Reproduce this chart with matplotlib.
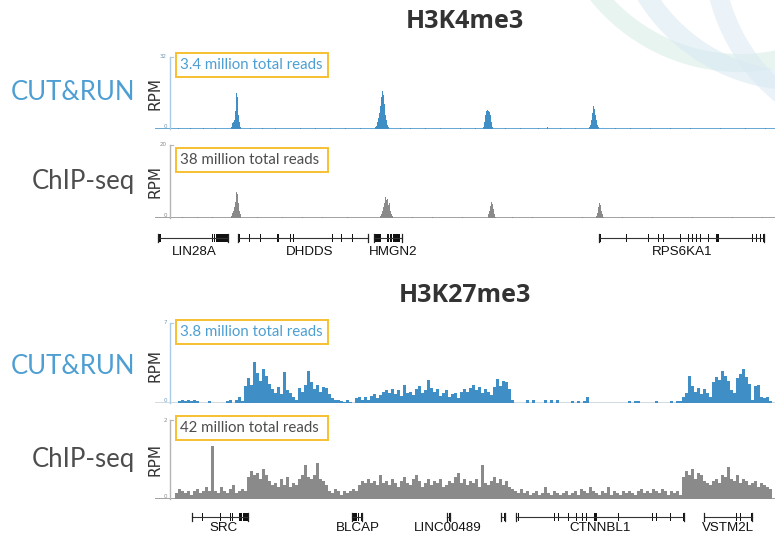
import numpy as np
import matplotlib
matplotlib.use('Agg')
import matplotlib.pyplot as plt
from matplotlib.patches import Circle, Rectangle

W, H = 775, 535

# ---- data (genomic positions are in browser units, 0 = left edge of tracks) ----
# H3K4me3 CUT&RUN (RPM), sparse bins
k4_cr_pos = (list(range(59, 69)) + list(range(203, 217)) + list(range(311, 321)) + list(range(417, 427))
             + [6, 18, 31, 43, 78, 90, 103, 128, 143, 158, 173, 188, 228, 238, 253, 268, 288, 303,
                333, 348, 366, 375, 388, 403, 443, 458, 478, 498, 518, 548, 573, 593])
k4_cr_val = ([1, 2.5, 3, 4, 8, 16, 14, 6, 3, 1]
             + [1, 1.5, 3, 5, 7, 10, 14, 17, 15, 11, 6, 4, 2, 1]
             + [1, 3, 6, 8, 8.5, 8, 7.5, 6, 3, 1]
             + [1, 2, 4, 7, 10, 9, 6, 4, 2, 1]
             + [0.4, 0.4, 0.3, 0.4, 0.4, 0.3, 0.4, 0.4, 0.3, 0.4, 0.4, 0.3, 0.4, 0.3, 0.4, 0.4, 0.3, 0.4,
                0.4, 0.3, 0.4, 1.0, 0.4, 0.3, 0.4, 0.4, 0.3, 0.4, 0.4, 0.3, 0.4, 0.3])

# H3K4me3 ChIP-seq (RPM)
k4_chip_pos = (list(range(59, 69)) + list(range(208, 221)) + list(range(316, 324)) + list(range(424, 432))
               + [10, 25, 40, 85, 110, 130, 150, 175, 240, 260, 290, 340, 360, 410, 450, 480, 520, 560, 590])
k4_chip_val = ([0.5, 1.5, 2, 3, 4.5, 7, 6.5, 4, 2, 1]
               + [0.5, 1, 2, 3, 4, 5.8, 4.8, 5.2, 3.5, 4.2, 2, 1, 0.5]
               + [1, 2, 3.2, 4.4, 3.8, 2.5, 1, 0.4]
               + [0.5, 1.5, 3, 4.1, 3.5, 2, 1, 0.3]
               + [0.25] * 19)

# H3K27me3 CUT&RUN (RPM), 3-unit bins from 0
k27_cr = ([0, 0]
          + [0.2, 0.3, 0.2, 0.3, 0.2, 0.3, 0.2, 0, 0]
          + [0, 0.15, 0, 0, 0, 0, 0]
          + [0.2, 0.3, 0, 0.3, 0.5, 0.2]
          + [1.5, 2.2, 1.6, 3.6, 2.6, 1.9, 3.0, 2.4, 1.7]
          + [1.2, 0.9, 1.4, 0.8, 2.7, 1.1, 0.9]
          + [0.5, 0.3]
          + [1.3, 1.0, 1.6, 2.8, 1.8, 1.2, 1.6, 1.0, 1.4, 1.3, 0.8]
          + [0.4, 0.3, 0.3, 0.2, 0.1, 0.3, 0.1, 0, 0.4, 0.5, 0.3, 0.5, 0.3, 0.6]
          + [0.8, 0.4, 0.7, 1.0, 1.1, 0.9, 1.2, 0.8, 1.1, 0.6, 1.6, 0.9, 1.0, 0.7, 1.2, 1.5, 0.9, 1.1,
             2.0, 1.3, 1.0, 1.2, 0.6, 0.9, 1.1, 0.5, 0.8, 0.9, 0.4, 1.0, 1.2, 1.0, 1.3, 1.6, 1.1, 1.4,
             0.9, 1.2, 1.0, 0.7, 1.4, 2.1, 1.5, 1.9, 1.8, 1.2, 0.3]
          + [0, 0, 0, 0, 0.25, 0, 0.25, 0, 0, 0, 0.25, 0, 0.25, 0, 0.25, 0, 0, 0, 0]
          + [0.2, 0, 0.2, 0, 0.2, 0.5, 0, 0, 0, 0, 0, 0, 0, 0, 0, 0, 0, 0, 0, 0.2, 0, 0.2, 0.2, 0,
             0, 0, 0, 0, 0.2, 0, 0, 0, 0, 0.2, 0, 0.2, 0.2]
          + [0.5, 0.9, 2.4, 1.5, 1.0, 1.3, 0.8, 1.2, 0.9, 0.5, 1.8, 2.3, 2.0, 2.8, 2.4, 1.9, 1.1, 0.9,
             2.2, 2.5, 3.0, 2.3, 1.7, 0.3, 1.5, 1.6, 0.5, 0.4, 0.5, 0.2])

# H3K27me3 ChIP-seq (RPM)
k27_chip = ([0]
            + [0.15, 0.25, 0.2, 0.15, 0.2, 0.1, 0.2, 0.25, 0.15, 0.2, 0.3, 0.2, 1.35, 0.2, 0.15, 0.3,
               0.2, 0.15, 0.25, 0.35, 0.15, 0.2, 0.25, 0.2]
            + [0.55, 0.7, 0.6, 0.65, 0.5, 0.75, 0.6, 0.45]
            + [0.35, 0.4, 0.3, 0.5, 0.35, 0.55, 0.3, 0.4, 0.35]
            + [0.5, 0.6, 0.85, 0.55, 0.5, 0.6, 0.9, 0.5, 0.45, 0.35]
            + [0.2, 0.15, 0.25, 0.2, 0.1, 0.2, 0.15, 0.2, 0.25, 0.2]
            + [0.35, 0.45, 0.4, 0.5, 0.4]
            + [0.45, 0.35, 0.6, 0.4, 0.45, 0.35, 0.5, 0.4, 0.3, 0.45, 0.55, 0.4, 0.35, 0.5, 0.6, 0.45,
               0.3, 0.4, 0.5, 0.35, 0.45, 0.4, 0.5, 0.3, 0.35, 0.45, 0.4, 0.55, 0.65, 0.4, 0.5, 0.35,
               0.45, 0.4, 0.5, 0.3, 0.85, 0.4, 0.35, 0.45, 0.55, 0.4, 0.5, 0.35, 0.45, 0.3, 0.25]
            + [0.2, 0.15, 0.25, 0.15, 0.2, 0.1, 0.15, 0.2, 0.1, 0.15, 0.3, 0.15, 0.1, 0.2, 0.15, 0.1,
               0.15, 0.2, 0.1]
            + [0.15, 0.2, 0.1, 0.25, 0.2, 0.15, 0.3, 0.2, 0.15, 0.1, 0.2, 0.15, 0.3, 0.1, 0.2, 0.15,
               0.1, 0.2, 0.15, 0.2, 0.15, 0.1, 0.2, 0.25, 0.15, 0.2, 0.15, 0.25, 0.2, 0.15, 0.25, 0.2,
               0.1, 0.2, 0.15, 0.2, 0.1]
            + [0.55, 0.7, 0.6, 0.75, 0.5, 0.65, 0.6, 0.45, 0.4, 0.35, 0.45, 0.5, 0.4, 0.6, 0.55, 0.8,
               0.5, 0.45, 0.6, 0.4, 0.5, 0.45, 0.35, 0.4, 0.45, 0.3, 0.4, 0.35, 0.3, 0.25])
bin_size = 3

# genes: name, start, end, exons (start, width), label x
k4_genes = [
    ('LIN28A', -14, 56, [(-14, 3), (40, 1.2), (42, 1.2), (44, 12)], 22),
    ('DHDDS', 66, 196, [(67, 1.2), (77, 1.2), (88, 1.2), (105, 1.6), (118, 1.2), (121, 1.2),
                        (160, 1.2), (169, 1.2), (180, 1.2)], 138),
    ('HMGN2', 202, 230, [(202, 7), (215, 1.5), (218, 1.5), (221, 7)], 221),
    ('RPS6KA1', 427, 592, [(428, 1.2), (454, 1.2), (476, 1.2), (486, 1.2), (491, 1.2), (508, 1.2),
                           (516, 1.2), (520, 1.2), (524, 1.2), (528, 1.2), (536, 1.2), (544, 2.5),
                           (580, 1.2), (584, 1.2), (588, 1.2), (591, 1.2)], 510),
]
k27_genes = [
    ('SRC', 20, 76, [(30, 1), (48, 1), (58, 1.2), (60, 1.2), (67, 3), (71, 2.5), (74, 2.5)], 52),
    ('BLCAP', 180, 190, [(180, 5), (186, 1), (189, 1)], 186),
    ('LINC00489', 275, 278, [(275, 1), (277, 1)], 276),
    ('', 329, 333, [(329, 1), (332, 1)], 331),
    ('CTNNBL1', 344, 512, [(346, 1.2), (382, 1.2), (386, 1.2), (396, 1.2), (404, 1.2), (410, 1.2),
                           (414, 1.2), (422, 2.5), (446, 1.2), (480, 1.2), (484, 1.2), (498, 1.2),
                           (511, 1.2)], 428),
    ('VSTM2L', 532, 580, [(532, 1.2), (564, 1.2), (568, 1.2), (579, 1.2)], 556),
]

blue = '#3f8fc6'
blue_txt = '#4d9fd3'
gray = '#8a8a8a'
gray_txt = '#4d4d4d'
gold = '#f6c02f'

fig = plt.figure(figsize=(W / 100, H / 100), dpi=100)

# background decoration (pixel coordinates)
bg = fig.add_axes([0, 0, 1, 1])
bg.set_xlim(0, W)
bg.set_ylim(H, 0)
bg.axis('off')
for (cx, cy, r, col, lw) in [(740, -120, 183, '#d6ece4', 13), (800, -100, 181, '#d6e8f2', 14),
                             (900, -50, 187, '#dbeaf4', 14)]:
    bg.add_patch(Circle((cx, cy), r, fill=False, edgecolor=col, lw=lw, alpha=0.55))


def px_axes(x0, y0, x1, y1):
    return fig.add_axes([x0 / W, 1 - y1 / H, (x1 - x0) / W, (y1 - y0) / H])


def track(y_top, y_base, pos, vals, width, ymax, color, base_col, axis_col, tick_col):
    ax = px_axes(155, y_top, 775, y_base)
    ax.set_xlim(-17, 603)
    ax.set_ylim(0, ymax)
    ax.axis('off')
    ax.axhline(0, color=base_col, lw=1.3, zorder=1)
    ax.bar(pos, vals, width=width, color=color, edgecolor='none', align='edge', zorder=2)
    ax.plot([-2, -2], [0, ymax], color=axis_col, lw=1, clip_on=False)
    ax.plot([-2, 0.5], [ymax, ymax], color=axis_col, lw=0.8, clip_on=False)
    ax.text(-5, ymax, str(ymax), ha='right', va='center', fontsize=4, color=tick_col)
    ax.text(-5, 0, '0', ha='right', va='bottom', fontsize=4, color=tick_col)
    return ax


def gene_track(y_line, y_label, genes):
    ax = px_axes(155, y_line - 10, 775, y_line + 10)
    ax.set_xlim(-17, 603)
    ax.set_ylim(10, -10)
    ax.axis('off')
    for name, start, end, exons, lx in genes:
        ax.plot([start, end], [0, 0], color='#333333', lw=0.8)
        ax.plot([start, start], [-4, 4], color='#222222', lw=0.9)
        ax.plot([end, end], [-4, 4], color='#222222', lw=0.9)
        for ex, ew in exons:
            ax.add_patch(Rectangle((ex, -4), ew, 8, facecolor='#111111', edgecolor='none'))
        if name:
            ax.text(lx, y_label - y_line, name, ha='center', va='center', fontsize=9.6,
                    family='Liberation Sans', color='#111111', clip_on=False)


# H3K4me3 panel
bg.text(465, 22, 'H3K4me3', ha='center', va='center', fontsize=18, fontweight='bold',
        family='Open Sans', color='#333333')
track(57, 129, k4_cr_pos, k4_cr_val, 1.2, 32, blue, '#5aa0cf', '#a9cde6', '#6d98b8')
track(145, 218, k4_chip_pos, k4_chip_val, 1.2, 20, gray, '#9a9a9a', '#b5b5b5', '#888888')
gene_track(238, 252, k4_genes)

# H3K27me3 panel
bg.text(465, 295, 'H3K27me3', ha='center', va='center', fontsize=18, fontweight='bold',
        family='Open Sans', color='#333333')
x27 = bin_size * np.arange(len(k27_cr))
track(323, 403, x27, k27_cr, bin_size, 7, blue, '#cdd8de', '#a9cde6', '#6d98b8')
x27c = bin_size * np.arange(len(k27_chip))
track(420, 499, x27c, k27_chip, bin_size, 2, gray, '#9a9a9a', '#b5b5b5', '#888888')
gene_track(517, 528, k27_genes)

# side labels, RPM labels and read-count boxes
rows = [
    (93, 'CUT&RUN', blue_txt, 65, '3.4 million total reads', blue_txt),
    (182, 'ChIP-seq', gray_txt, 160, '38 million total reads', gray_txt),
    (366, 'CUT&RUN', blue_txt, 332, '3.8 million total reads', blue_txt),
    (460, 'ChIP-seq', gray_txt, 428, '42 million total reads', gray_txt),
]
for yc, lab, lcol, by, btxt, bcol in rows:
    bg.text(135, yc, lab, ha='right', va='center', fontsize=18.5, family='Lato', color=lcol)
    bg.text(155, yc, 'RPM', ha='center', va='center', rotation=90, fontsize=11,
            family='DejaVu Sans', color='#333333')
    bg.add_patch(Rectangle((176, by - 12), 152, 24, facecolor='white', edgecolor=gold, lw=1.4))
    bg.text(180, by, btxt, ha='left', va='center', fontsize=10.8, family='Lato', color=bcol)

fig.savefig('out.png', dpi=100)
